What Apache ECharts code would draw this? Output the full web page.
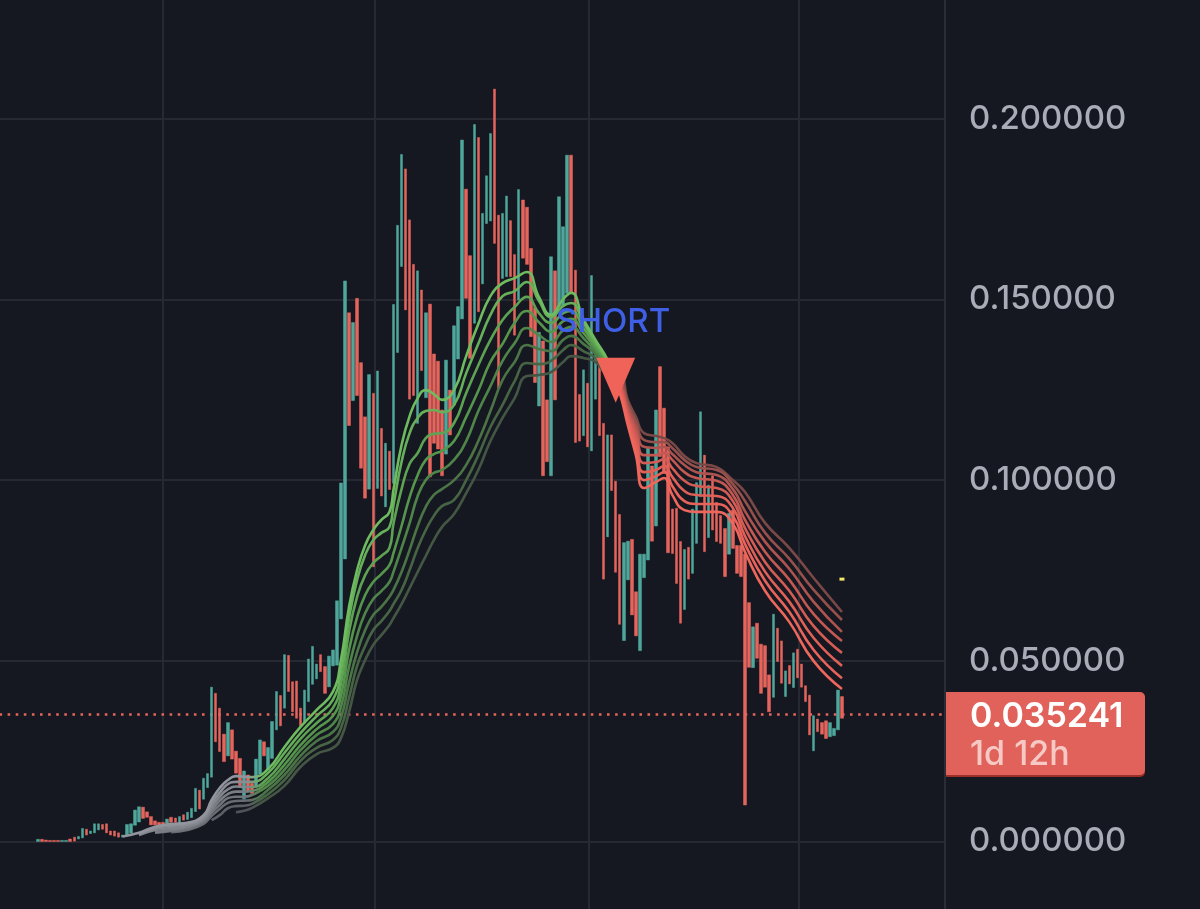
<!DOCTYPE html>
<html>
<head>
<meta charset="utf-8">
<style>html,body{margin:0;padding:0;background:#151820}#c{width:1200px;height:909px}</style>
<script src="https://cdn.jsdelivr.net/npm/echarts@6/dist/echarts.min.js"></script>
</head>
<body>
<div id="c"></div>
<script>
const bodyUpper = [
.0006,.0006,.0004,.0003,.0003,.0003,.0003,.0003,.0007,.0012,
.0014,.0036,.0034,.0029,.0049,.0049,.0047,.0049,.0029,.0029,
.0024,.0018,.0047,.0049,.0087,.0096,.0095,.0082,.0069,.0057,
.0053,.0053,.0062,.0067,.0065,.0069,.0074,.0081,.0092,.0147,
.0142,.0175,.0188,.0427,.0410,.0369,.0297,.0329,.0309,.0250,
.0230,.0195,.0184,.0161,.0228,.0281,.0276,.0260,.0332,.0415,
.0404,.0517,.0515,.0442,.0444,.0369,.0419,.0505,.0540,.0491,
.0517,.0484,.0513,.0530,.0666,.0992,.1551,.1463,.1436,.1503,
.1325,.1175,.1292,.1240,.1302,.1143,.1102,.1080,.1486,.1705,
.1901,.1861,.1720,.1597,.1579,.1526,.1463,.1487,.1349,.1329,
.1194,.1332,.1249,.1427,.1480,.1941,.1805,.1621,.1984,.1948,
.1738,.1842,.1959,.2082,.1733,.1738,.1786,.1718,.1624,.1804,
.1775,.1755,.1641,.1477,.1409,.1385,.1222,.1618,.1579,.1784,
.1701,.1899,.1899,.1581,.1237,.1305,.1268,.1566,.1388,.1352,
.1157,.1125,.1125,.0997,.0905,.0827,.0831,.0836,.0691,.0795,
.0795,.1091,.1039,.1194,.1314,.1199,.1092,.0920,.0922,.0830,
.0808,.0814,.0920,.0993,.1189,.1069,.0986,.1012,.0938,.0902,
.0866,.0908,.0917,.0819,.0819,.0795,.0661,.0594,.0604,.0546,
.0542,.0461,.0629,.0590,.0555,.0472,.0487,.0522,.0532,.0491,
.0431,.0405,.0348,.0339,.0329,.0334,.0329,.0313,.0419,.0401];
const bodyLower = [
.0000,.0000,.0000,.0000,.0000,.0000,.0000,.0000,.0000,.0001,
.0007,.0010,.0018,.0022,.0024,.0032,.0034,.0024,.0018,.0015,
.0012,.0012,.0018,.0023,.0045,.0054,.0064,.0067,.0046,.0046,
.0041,.0041,.0046,.0053,.0053,.0048,.0059,.0061,.0066,.0083,
.0090,.0117,.0149,.0178,.0276,.0249,.0221,.0237,.0228,.0189,
.0152,.0118,.0138,.0133,.0152,.0186,.0237,.0198,.0230,.0309,
.0320,.0369,.0415,.0359,.0341,.0320,.0327,.0387,.0435,.0450,
.0470,.0410,.0428,.0486,.0488,.0616,.0782,.1151,.1220,.1234,
.1033,.0950,.0975,.0760,.0977,.0956,.0926,.0974,.0991,.1353,
.1591,.1471,.1224,.1234,.1157,.1303,.1228,.1009,.1102,.1086,
.1012,.1072,.1125,.1208,.1335,.1446,.1503,.1337,.1434,.1466,
.1543,.1710,.1717,.1655,.1254,.1558,.1563,.1563,.1401,.1498,
.1614,.1597,.1397,.1270,.1205,.1012,.1051,.1012,.1222,.1480,
.1480,.1517,.1517,.1104,.1108,.1123,.1092,.1081,.1224,.1123,
.0726,.0843,.0971,.0745,.0601,.0556,.0724,.0627,.0569,.0528,
.0730,.0779,.0831,.0873,.1065,.1019,.0799,.0797,.0714,.0604,
.0642,.0726,.0742,.0825,.0954,.0802,.0841,.0862,.0830,.0825,
.0733,.0795,.0811,.0742,.0733,.0101,.0482,.0481,.0507,.0410,
.0427,.0359,.0399,.0498,.0438,.0401,.0436,.0426,.0453,.0427,
.0387,.0295,.0251,.0304,.0297,.0285,.0290,.0293,.0309,.0341];
const rising = [
1,0,0,0,0,0,1,1,0,0, 1,1,0,1,1,1,0,0,0,0, 0,1,1,1,1,1,0,0,0,0, 0,0,1,0,0,1,0,1,1,1,
0,1,1,1,0,0,0,1,0,0, 0,1,0,0,1,1,0,1,1,1, 0,1,0,0,0,0,1,1,1,1, 0,0,1,1,1,1,1,0,1,0,
0,0,1,0,1,0,1,0,1,1, 1,0,0,0,1,0,1,0,0,0, 0,1,0,1,1,1,0,0,1,0, 1,1,1,0,0,1,1,0,0,1,
0,0,0,0,1,0,0,1,0,1, 1,1,0,0,0,1,0,1,1,0, 0,1,0,0,0,1,1,0,0,1, 1,1,0,1,0,0,0,0,0,0,
1,0,1,1,1,0,1,0,0,0, 0,1,0,0,0,0,0,1,0,0, 0,0,1,0,0,1,0,1,0,0, 0,0,1,0,0,0,1,1,1,0];

const ribbonBars = [21,25,29,33,37,41,43,45,47,49,51,53,57,61,65,69,73,75,77,79,81,83,85,87,88,90,92,94,96,98,100,103,106,109,112,115,118,121,124,127,130,132,135,138,141,144,146,148,150,153,155,157,160,163,168,172,175,180,186,192,199];
const ribbon1 = [.0014,.0024,.0041,.0048,.0052,.0073,.0115,.0148,.0170,.0181,.0179,.0178,.0201,.0261,.0317,.0364,.0414,.0502,.0649,.0751,.0820,.0862,.0890,.0912,.0973,.1097,.1177,.1227,.1249,.1238,.1222,.1249,.1343,.1432,.1509,.1545,.1559,.1576,.1507,.1457,.1501,.1518,.1446,.1388,.1332,.1241,.1152,.1069,.0978,.0995,.1006,.0959,.0917,.0912,.0912,.0879,.0801,.0693,.0607,.0499,.0422];
const ribbon2 = [null,.0021,.0037,.0043,.0048,.0068,.0106,.0135,.0159,.0165,.0165,.0165,.0190,.0245,.0300,.0347,.0392,.0469,.0618,.0724,.0793,.0834,.0854,.0870,.0931,.1050,.1130,.1172,.1191,.1194,.1188,.1208,.1296,.1377,.1457,.1509,.1523,.1548,.1496,.1451,.1482,.1490,.1435,.1382,.1330,.1248,.1162,.1086,.1000,.1011,.1022,.0984,.0942,.0934,.0934,.0901,.0823,.0721,.0635,.0530,.0452];
const ribbon3 = [null,.0018,.0032,.0037,.0043,.0063,.0096,.0124,.0144,.0152,.0151,.0151,.0176,.0228,.0284,.0328,.0369,.0436,.0580,.0677,.0737,.0771,.0790,.0812,.0879,.0975,.1045,.1075,.1116,.1128,.1130,.1158,.1241,.1318,.1388,.1443,.1479,.1507,.1462,.1435,.1462,.1468,.1421,.1374,.1327,.1255,.1172,.1103,.1022,.1028,.1039,.1009,.0970,.0959,.0956,.0923,.0845,.0746,.0663,.0563,.0486];
const ribbon4 = [null,null,.0026,.0032,.0040,.0059,.0087,.0113,.0131,.0138,.0138,.0140,.0165,.0212,.0267,.0311,.0347,.0403,.0530,.0621,.0682,.0718,.0740,.0765,.0798,.0873,.0953,.1014,.1056,.1072,.1081,.1108,.1175,.1247,.1327,.1377,.1435,.1468,.1437,.1410,.1440,.1446,.1407,.1366,.1321,.1262,.1181,.1119,.1047,.1050,.1058,.1033,.0998,.0984,.0978,.0942,.0867,.0773,.0693,.0596,.0522];
const ribbon5 = [null,null,.0024,.0029,.0035,.0054,.0080,.0101,.0120,.0124,.0124,.0129,.0154,.0198,.0253,.0295,.0325,.0372,.0483,.0569,.0632,.0671,.0693,.0718,.0746,.0812,.0881,.0956,.1000,.1020,.1028,.1056,.1108,.1191,.1260,.1330,.1379,.1421,.1401,.1382,.1415,.1424,.1393,.1357,.1316,.1269,.1191,.1133,.1069,.1069,.1075,.1056,.1022,.1006,.0998,.0959,.0890,.0801,.0724,.0629,.0555];
const ribbon6 = [null,null,null,.0026,.0032,.0049,.0071,.0090,.0107,.0112,.0113,.0115,.0143,.0184,.0237,.0278,.0303,.0342,.0439,.0524,.0585,.0627,.0649,.0677,.0696,.0746,.0807,.0873,.0926,.0959,.0975,.1000,.1042,.1108,.1191,.1277,.1327,.1374,.1363,.1357,.1388,.1399,.1377,.1349,.1310,.1276,.1201,.1147,.1092,.1089,.1092,.1072,.1042,.1022,.1014,.0975,.0914,.0829,.0754,.0663,.0580];
const ribbon7 = [null,null,null,null,null,null,.0059,.0073,.0092,.0098,.0099,.0104,.0131,.0170,.0223,.0259,.0281,.0314,.0397,.0486,.0541,.0585,.0610,.0638,.0657,.0696,.0751,.0812,.0862,.0901,.0928,.0945,.1000,.1069,.1147,.1208,.1274,.1324,.1321,.1330,.1360,.1374,.1357,.1338,.1302,.1283,.1211,.1161,.1111,.1105,.1105,.1089,.1056,.1036,.1028,.0989,.0942,.0854,.0782,.0696,.0613];
const ribbon8 = [null,null,null,null,null,null,null,null,null,.0081,.0085,.0093,.0120,.0154,.0206,.0242,.0259,.0286,.0358,.0447,.0502,.0544,.0571,.0599,.0618,.0657,.0701,.0746,.0790,.0834,.0870,.0906,.0964,.1028,.1108,.1172,.1227,.1288,.1291,.1299,.1327,.1343,.1338,.1327,.1294,.1291,.1222,.1175,.1130,.1122,.1116,.1103,.1067,.1047,.1036,.1000,.0967,.0881,.0812,.0729,.0635];
const ribbons = [ribbon1,ribbon2,ribbon3,ribbon4,ribbon5,ribbon6,ribbon7,ribbon8];

const grayShades  = ['#93959e','#8b8d95','#83858d','#7b7d85','#72747c','#686a72','#5c5e66','#50525a'];
const greenShades = ['#6ebb60','#66b05a','#5da353','#55954c','#4f8549','#4b7546','#476545','#445644'];
const redShades   = ['#ee665c','#e9635a','#e06058','#d45c55','#c45852','#ae534f','#96504c','#7a4846'];

const priceTicks = 0.05;
const lastPrice = 0.035241;
const lastPriceText = '0.035241';
const countdownText = '1d 12h';
const signalBar = 143, signalPrice = 0.1276;
const signalText = 'SHORT', signalTextBar = 142, signalTextPrice = 0.1436;
const dashBar = 199, dashPrice = 0.0726;
const timeGridBars = [30.96, 83.4, 136.4, 188.3];

const PAD = 9, TOTAL = 234;
const GREEN = '#4fa79b', RED = '#e5645c';
const cats = Array.from({length: TOTAL}, (_, k) => String(k - PAD));
const blank = Array.from({length: PAD}, () => ['-','-','-','-']);
const candles = blank.concat(bodyUpper.map((u, i) => {
  const l = bodyLower[i];
  return rising[i] ? [l, u, l, u] : [u, l, l, u];
}));

const stops = (i) => ({
  type: 'linear', x: 0, y: 0, x2: 1200, y2: 0, global: true,
  colorStops: [
    {offset: 0, color: grayShades[i]},
    {offset: 246/1200, color: grayShades[i]},
    {offset: 262/1200, color: greenShades[i]},
    {offset: 606/1200, color: greenShades[i]},
    {offset: 614/1200, color: redShades[i]},
    {offset: 1, color: redShades[i]}
  ]
});

const lineSeries = ribbons.map((r, i) => ({
  type: 'line', z: 3 + (8 - i) / 10, silent: true, showSymbol: false, symbol: 'none',
  smooth: 0.5,
  lineStyle: {width: 2.6, color: stops(i)},
  data: ribbonBars.map((b, k) => [b + PAD, r[k]]).filter(p => p[1] !== null)
}));

const chart = echarts.init(document.getElementById('c'), null, {renderer: 'canvas', width: 1200, height: 909});
chart.setOption({
  animation: false,
  backgroundColor: '#151820',
  grid: {left: -0.5, width: 945.5, top: -62, height: 1084.2, outerBoundsMode: 'none', containLabel: false},
  xAxis: [
    {type: 'category', data: cats, boundaryGap: true, show: false},
    {type: 'value', min: -PAD - 0.5, max: TOTAL - PAD - 0.5, position: 'bottom',
     axisLine: {show: false}, axisLabel: {show: false},
     axisTick: {show: false, customValues: timeGridBars},
     splitLine: {show: true, lineStyle: {color: '#262932', width: 2}}}
  ],
  yAxis: {
    type: 'value', position: 'right', min: -0.05, max: 0.25, interval: priceTicks,
    axisLine: {show: true, onZero: false, lineStyle: {color: '#2a2d36', width: 2}},
    axisTick: {show: false},
    splitLine: {show: true, lineStyle: {color: '#262932', width: 2}},
    axisLabel: {
      show: true, margin: 24, align: 'left', showMinLabel: false, showMaxLabel: false,
      color: '#a9adb8', fontFamily: 'Inter', fontSize: 33, fontWeight: 500, padding: [6, 0, 0, 0],
      formatter: v => v.toFixed(6)
    }
  },
  series: [
    {
      type: 'candlestick', z: 2, barWidth: 3, silent: true, data: candles,
      itemStyle: {color: GREEN, color0: RED, borderColor: GREEN, borderColor0: RED, borderWidth: 0.5},
      markLine: {
        silent: true, symbol: 'none', z: 1, precision: 6,
        label: {show: false},
        lineStyle: {color: RED, width: 2.5, type: [2.6, 5.5], opacity: 1},
        data: [{yAxis: lastPrice}]
      },
      markPoint: {
        silent: true, z: 8,
        data: [
          {coord: [signalBar + PAD, signalPrice], symbol: 'triangle', symbolRotate: 180, symbolSize: [39, 45],
           itemStyle: {color: '#ef6358'}, label: {show: false}},
          {coord: [signalTextBar + PAD, signalTextPrice], symbol: 'circle', symbolSize: 1,
           itemStyle: {color: 'transparent'},
           label: {show: true, position: 'inside', formatter: signalText, color: '#3f60e6',
                   fontFamily: 'Inter', fontWeight: 500, fontSize: 33, padding: [0, 0, 0, 3]}},
          {coord: [dashBar + PAD, dashPrice], symbol: 'rect', symbolSize: [5, 3],
           itemStyle: {color: '#f0e868'}, label: {show: false}}
        ]
      }
    },
    ...lineSeries
  ],
  graphic: [
    {type: 'rect', silent: true, z: 50, shape: {x: 946, y: 693, width: 199, height: 84, r: [0, 5, 5, 0]}, style: {fill: '#9c3028'}},
    {type: 'rect', silent: true, z: 51, shape: {x: 946, y: 692, width: 199, height: 83, r: [0, 5, 5, 0]}, style: {fill: '#e0625a'}},
    {type: 'text', silent: true, z: 52, x: 970, y: 717, style: {text: lastPriceText, fill: '#ffffff', font: '600 34px Inter', textVerticalAlign: 'middle', verticalAlign: 'middle'}},
    {type: 'text', silent: true, z: 52, x: 970, y: 755, style: {text: countdownText, fill: '#f6c9c5', font: '500 34px Inter', textVerticalAlign: 'middle', verticalAlign: 'middle'}}
  ]
});
</script>
</body>
</html>
